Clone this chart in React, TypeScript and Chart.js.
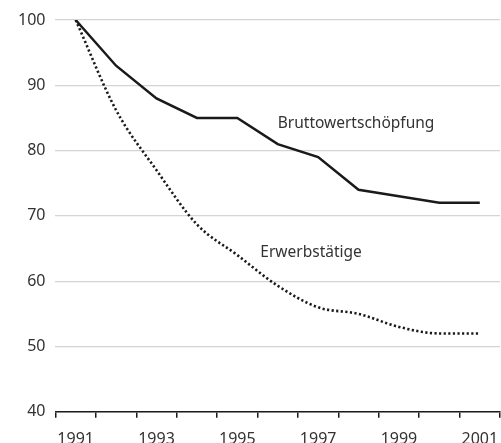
import React, { useEffect, useRef } from "react";
import { Chart, registerables } from "chart.js";

Chart.register(...registerables);

const years = ["1991", "1992", "1993", "1994", "1995", "1996", "1997", "1998", "1999", "2000", "2001"];
const bruttowertschoepfung = [100, 93, 88, 85, 85, 81, 79, 74, 73, 72, 72];
const erwerbstaetige = [100, 86.2, 77, 68.7, 64, 59.3, 56, 55, 53, 52, 52];
const seriesNames = ["Bruttowertschöpfung", "Erwerbstätige"];
// label anchors: [category index, value]
const labelAnchors: [number, number][] = [
  [5, 84.2],
  [4.57, 64.4],
];

const FONT = "'Noto Sans', sans-serif";

const labelPlugin = {
  id: "seriesLabels",
  afterDatasetsDraw(chart: any) {
    const { ctx, scales } = chart;
    const xs = scales.x;
    const ys = scales.y;
    ctx.save();
    ctx.font = `15.5px ${FONT}`;
    ctx.fillStyle = "#333";
    ctx.textAlign = "left";
    ctx.textBaseline = "middle";
    seriesNames.forEach((name, i) => {
      const [ix, v] = labelAnchors[i];
      const i0 = Math.floor(ix);
      const frac = ix - i0;
      const x0 = xs.getPixelForValue(i0);
      const x1 = xs.getPixelForValue(i0 + 1);
      const x = x0 + (x1 - x0) * frac;
      ctx.fillText(name, x, ys.getPixelForValue(v));
    });
    ctx.restore();
  },
};

export default function App() {
  const ref = useRef<HTMLCanvasElement>(null);
  useEffect(() => {
    document.body.style.margin = "0";
    const chart = new Chart(ref.current!, {
      type: "line",
      data: {
        labels: years,
        datasets: [
          {
            label: seriesNames[0],
            data: bruttowertschoepfung,
            borderColor: "#1a1a1a",
            borderWidth: 2.5,
            pointRadius: 0,
            tension: 0,
            fill: false,
          },
          {
            label: seriesNames[1],
            data: erwerbstaetige,
            borderColor: "#1a1a1a",
            borderWidth: 2.6,
            borderDash: [2.2, 2.4],
            pointRadius: 0,
            cubicInterpolationMode: "monotone",
            fill: false,
          },
        ],
      },
      options: {
        animation: false,
        responsive: false,
        layout: { padding: { top: 20, right: 1, left: 8, bottom: 0 } },
        plugins: { legend: { display: false }, tooltip: { enabled: false } },
        scales: {
          x: {
            offset: true,
            grid: {
              offset: true,
              drawOnChartArea: false,
              drawTicks: true,
              tickLength: 6,
              color: "#1a1a1a",
              lineWidth: 1.5,
            },
            border: { display: true, color: "#1a1a1a", width: 1.5 },
            ticks: {
              autoSkip: false,
              maxRotation: 0,
              padding: 0,
              color: "#333",
              font: { family: FONT, size: 16, lineHeight: 2.7 },
              callback: (_v: any, i: number) => (i % 2 === 0 ? years[i] : ""),
            },
          },
          y: {
            min: 40,
            max: 100,
            ticks: {
              stepSize: 10,
              padding: 10,
              color: "#333",
              font: { family: FONT, size: 16 },
            },
            grid: { color: "#d4d4d4", lineWidth: 1.2, drawTicks: false },
            border: { display: false },
          },
        },
      },
      plugins: [labelPlugin],
    });
    return () => chart.destroy();
  }, []);
  return (
    <div style={{ position: "fixed", left: 0, top: 0, width: 501, height: 443, overflow: "hidden", background: "#fff" }}>
      <canvas ref={ref} width={501} height={461} style={{ width: 501, height: 461, display: "block" }} />
    </div>
  );
}
